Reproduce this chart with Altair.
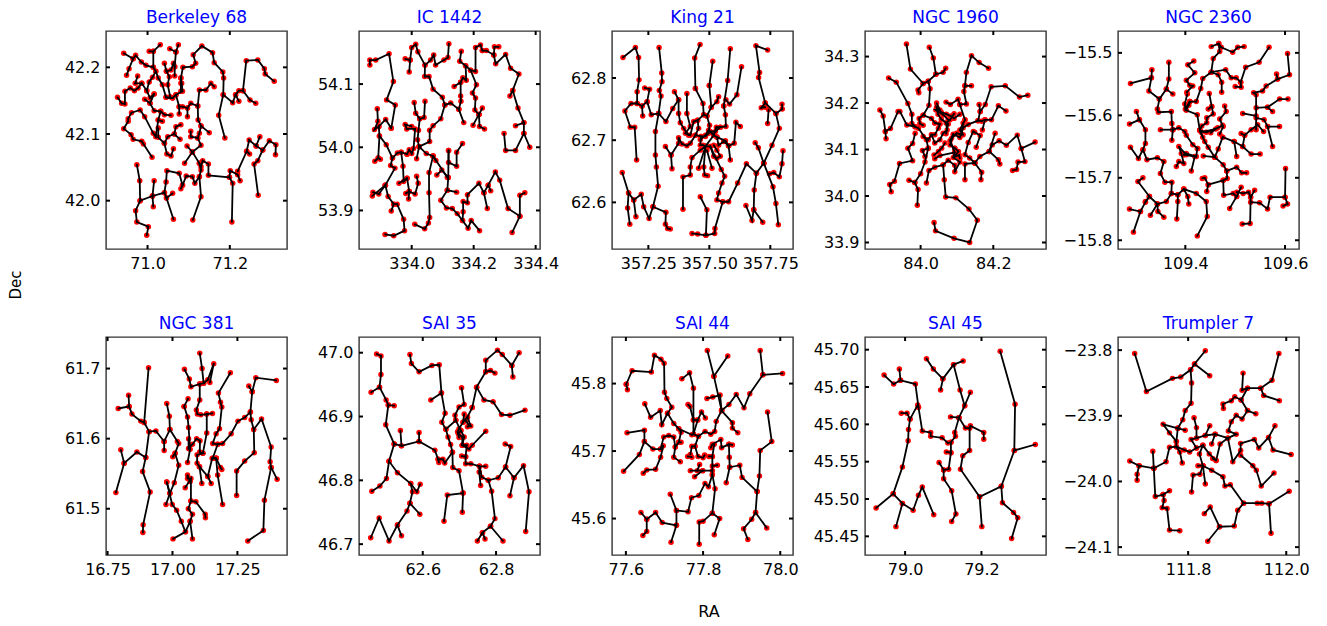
import altair as alt
import pandas as pd

BERKELEY_68 = [
 [(70.942,42.221),(70.965,42.213),(70.955,42.198),(70.949,42.188)],
 [(70.965,42.213),(70.971,42.218),(70.985,42.208),(70.996,42.203),(71.014,42.200),(71.020,42.194),(71.012,42.185),(71.004,42.178),(70.998,42.165),(70.986,42.176),(70.977,42.169),(70.968,42.165),(70.958,42.169),(70.945,42.164),(70.945,42.145),(70.937,42.146),(70.927,42.155)],
 [(70.986,42.176),(70.970,42.176),(70.976,42.187)],
 [(71.014,42.200),(71.014,42.224),(71.004,42.224)],
 [(71.014,42.224),(71.031,42.234)],
 [(71.020,42.194),(71.026,42.184),(71.036,42.174),(71.045,42.155),(71.061,42.154)],
 [(70.998,42.165),(71.006,42.154),(71.016,42.160)],
 [(70.993,42.152),(71.006,42.146),(71.016,42.160)],
 [(71.006,42.146),(71.016,42.135),(71.032,42.134),(71.041,42.129),(71.057,42.128)],
 [(71.032,42.134),(71.026,42.121),(71.020,42.096),(71.014,42.101),(70.993,42.126),(70.982,42.136),(70.961,42.132),(70.953,42.123),(70.953,42.119),(70.942,42.108),(70.960,42.099),(70.965,42.092),(70.986,42.089),(70.990,42.085),(71.011,42.065)],
 [(71.026,42.121),(71.036,42.119)],
 [(71.026,42.109),(71.026,42.095),(71.041,42.086),(71.047,42.070),(71.057,42.067),(71.063,42.078)],
 [(71.041,42.086),(71.049,42.096),(71.065,42.100),(71.079,42.092)],
 [(71.065,42.100),(71.069,42.111),(71.081,42.114)],
 [(71.045,42.155),(71.061,42.154),(71.069,42.159),(71.085,42.164),(71.083,42.176),(71.081,42.184),(71.086,42.200),(71.109,42.201),(71.117,42.206),(71.111,42.219),(71.132,42.232),(71.158,42.222),(71.162,42.207),(71.183,42.193),(71.185,42.184),(71.184,42.159),(71.173,42.128),(71.188,42.094)],
 [(71.069,42.159),(71.077,42.141),(71.077,42.130)],
 [(71.077,42.141),(71.085,42.141),(71.097,42.139),(71.105,42.146),(71.122,42.142),(71.126,42.166),(71.142,42.166),(71.154,42.176),(71.162,42.171)],
 [(71.097,42.139),(71.097,42.126)],
 [(71.122,42.142),(71.123,42.121),(71.130,42.112),(71.150,42.102)],
 [(71.130,42.112),(71.126,42.101),(71.122,42.094),(71.105,42.096),(71.105,42.104)],
 [(71.122,42.094),(71.130,42.083),(71.109,42.073),(71.096,42.082)],
 [(71.109,42.073),(71.090,42.056)],
 [(71.109,42.073),(71.126,42.056),(71.130,42.051),(71.134,42.060),(71.148,42.055),(71.148,42.038),(71.199,42.035),(71.207,42.026),(71.205,41.968)],
 [(71.199,42.035),(71.201,42.045),(71.219,42.039),(71.225,42.030)],
 [(71.219,42.044),(71.241,42.074),(71.247,42.091),(71.264,42.082),(71.273,42.096)],
 [(71.264,42.082),(71.280,42.076),(71.296,42.090),(71.312,42.084),(71.311,42.069)],
 [(71.280,42.076),(71.268,42.060),(71.259,42.055),(71.269,42.008)],
 [(71.241,42.074),(71.248,42.070)],
 [(71.126,42.056),(71.130,42.046),(71.126,42.036),(71.130,42.006),(71.110,41.971)],
 [(71.126,42.036),(71.115,42.026),(71.109,42.036),(71.094,42.037),(71.085,42.023),(71.081,42.018)],
 [(71.085,42.023),(71.077,42.041),(71.047,42.045),(71.045,42.028),(71.041,42.012),(71.012,42.007),(70.982,42.000),(70.981,42.030),(70.974,42.054)],
 [(71.012,42.007),(71.014,41.991)],
 [(71.012,42.007),(71.016,42.030)],
 [(71.041,42.012),(71.046,42.004),(71.063,41.972)],
 [(71.046,42.004),(71.061,42.011)],
 [(70.982,42.000),(70.971,41.985),(70.974,41.968),(71.002,41.961),(70.998,41.948)],
 [(71.184,42.159),(71.207,42.147),(71.214,42.159),(71.222,42.165),(71.232,42.165),(71.240,42.210),(71.268,42.211),(71.284,42.198),(71.286,42.190),(71.308,42.179)],
 [(71.232,42.165),(71.249,42.151),(71.263,42.146)],
 [(71.214,42.159),(71.222,42.149)],
 [(71.054,42.228),(71.069,42.223),(71.075,42.234)],
 [(71.069,42.223),(71.066,42.201),(71.066,42.187)],
 [(71.041,42.206),(71.046,42.194),(71.053,42.186),(71.049,42.174),(71.055,42.156)],
 [(71.046,42.194),(71.057,42.196),(71.063,42.206),(71.066,42.201)],
 [(71.081,42.184),(71.081,42.176),(71.081,42.164)],
]

IC_1442 = [
 [(333.865,54.130),(333.865,54.138),(333.884,54.138),(333.927,54.148),(333.941,54.104),(333.919,54.075),(333.947,54.067),(333.934,54.030)],
 [(333.889,54.061),(333.891,54.041),(333.880,54.028),(333.894,54.033),(333.916,54.044),(333.934,54.030)],
 [(333.894,54.033),(333.896,54.018),(333.918,54.004),(333.938,53.983),(333.932,53.971),(333.946,53.967),(333.915,53.940),(333.894,53.926),(333.875,53.929)],
 [(333.915,53.940),(333.873,53.923)],
 [(333.896,54.018),(333.892,53.983),(333.881,53.978)],
 [(333.892,53.983),(333.899,53.981)],
 [(333.938,53.983),(333.954,53.991),(333.966,53.992),(333.972,53.970),(333.974,53.946),(333.985,53.951),(333.959,53.943)],
 [(333.985,53.951),(333.992,53.930),(333.981,53.927)],
 [(333.992,53.930),(333.990,53.918)],
 [(333.992,53.930),(334.011,53.926),(334.021,53.943),(334.016,53.954)],
 [(333.966,53.992),(333.985,53.989)],
 [(333.915,53.940),(333.924,53.922),(333.942,53.910),(333.953,53.910),(333.974,53.886),(333.977,53.868),(333.942,53.860),(333.914,53.862)],
 [(333.942,53.910),(333.934,53.899)],
 [(333.985,53.989),(333.992,53.996),(334.000,53.990),(334.006,53.998),(334.011,54.029),(333.984,54.029),(333.979,54.036),(334.000,54.033)],
 [(334.008,54.071),(334.013,54.054),(334.026,54.045),(334.040,54.047),(334.043,54.073)],
 [(334.026,54.045),(334.022,54.027),(334.019,54.012),(334.024,54.001),(334.016,53.982)],
 [(334.024,54.001),(334.047,53.990),(334.069,53.986),(334.115,53.952)],
 [(334.069,53.986),(334.056,53.960),(334.056,53.928),(334.058,53.889),(334.054,53.880),(334.042,53.871),(334.010,53.878)],
 [(334.069,53.986),(334.078,53.979)],
 [(334.081,53.956),(334.097,53.964),(334.118,53.952),(334.119,53.995)],
 [(334.119,53.995),(334.119,53.976),(334.145,53.970),(334.145,53.992),(334.164,54.006)],
 [(334.118,53.952),(334.115,53.932),(334.145,53.929)],
 [(334.115,53.932),(334.094,53.916),(334.112,53.904),(334.131,53.903),(334.147,53.895),(334.164,53.884),(334.182,53.872),(334.192,53.884),(334.219,53.868)],
 [(334.164,53.884),(334.166,53.898),(334.166,53.914),(334.180,53.912),(334.180,53.925),(334.217,53.943),(334.233,53.928),(334.244,53.903)],
 [(334.233,53.928),(334.247,53.940),(334.270,53.961),(334.284,53.948),(334.311,53.903),(334.349,53.891),(334.349,53.924),(334.365,53.928)],
 [(334.349,53.891),(334.324,53.865)],
 [(334.247,53.940),(334.255,53.931)],
 [(334.024,54.001),(334.058,54.009),(334.058,54.027),(334.069,54.034),(334.094,54.045),(334.107,54.067),(334.099,54.079),(334.069,54.092),(334.056,54.112),(334.042,54.112),(334.043,54.130),(334.020,54.151),(334.013,54.163),(334.000,54.158),(333.995,54.138),(333.979,54.140)],
 [(333.995,54.138),(333.992,54.119)],
 [(334.043,54.130),(334.061,54.138),(334.071,54.146),(334.077,54.130),(334.104,54.138),(334.117,54.142),(334.120,54.164)],
 [(334.107,54.067),(334.126,54.070),(334.152,54.060),(334.168,54.039)],
 [(334.152,54.060),(334.159,54.073),(334.158,54.081),(334.158,54.103),(334.137,54.096)],
 [(334.158,54.103),(334.165,54.110),(334.176,54.106),(334.174,54.129),(334.155,54.136),(334.160,54.152)],
 [(334.174,54.129),(334.190,54.122),(334.206,54.120),(334.206,54.158),(334.222,54.162),(334.228,54.153)],
 [(334.190,54.122),(334.209,54.099),(334.196,54.086),(334.206,54.078),(334.204,54.059),(334.217,54.052),(334.228,54.062)],
 [(334.217,54.052),(334.198,54.035)],
 [(334.217,54.052),(334.219,54.033),(334.235,54.029)],
 [(334.228,54.153),(334.241,54.153),(334.265,54.146),(334.271,54.132),(334.303,54.147),(334.319,54.125),(334.346,54.116),(334.326,54.090),(334.317,54.081)],
 [(334.265,54.146),(334.267,54.159),(334.281,54.159)],
 [(334.326,54.090),(334.343,54.062),(334.362,54.039),(334.335,54.034)],
 [(334.362,54.039),(334.362,54.022),(334.381,54.000)],
 [(334.362,54.022),(334.335,53.995),(334.303,53.995),(334.298,54.022)],
]

KING_21 = [
 [(357.146,62.833),(357.197,62.849),(357.210,62.833),(357.212,62.797),(357.204,62.778),(357.204,62.759),(357.179,62.759),(357.154,62.747),(357.176,62.721),(357.194,62.721),(357.202,62.668)],
 [(357.204,62.759),(357.224,62.755),(357.227,62.739)],
 [(357.224,62.755),(357.245,62.762),(357.255,62.782),(357.235,62.784)],
 [(357.245,62.762),(357.262,62.741),(357.292,62.743),(357.322,62.730),(357.350,62.751),(357.374,62.765),(357.357,62.778)],
 [(357.374,62.765),(357.374,62.743),(357.381,62.728),(357.395,62.719),(357.415,62.708)],
 [(357.292,62.743),(357.302,62.771),(357.295,62.780),(357.306,62.794),(357.305,62.808),(357.294,62.849)],
 [(357.292,62.743),(357.279,62.714),(357.279,62.676),(357.283,62.657),(357.290,62.626),(357.269,62.593),(357.253,62.574),(357.231,62.593),(357.221,62.613),(357.190,62.604),(357.169,62.615),(357.143,62.648)],
 [(357.169,62.615),(357.165,62.591),(357.174,62.565)],
 [(357.190,62.604),(357.199,62.577)],
 [(357.269,62.593),(357.322,62.584),(357.320,62.565),(357.329,62.558),(357.340,62.557)],
 [(357.408,62.775),(357.408,62.743),(357.422,62.722),(357.402,62.711),(357.422,62.708),(357.436,62.730),(357.452,62.732),(357.456,62.719),(357.443,62.708),(357.466,62.706)],
 [(357.443,62.783),(357.440,62.832),(357.462,62.854)],
 [(357.443,62.783),(357.474,62.759),(357.477,62.741),(357.452,62.732)],
 [(357.477,62.741),(357.490,62.739),(357.501,62.724),(357.497,62.711),(357.484,62.706),(357.466,62.706),(357.463,62.692),(357.474,62.692),(357.484,62.690)],
 [(357.500,62.788),(357.514,62.827)],
 [(357.500,62.788),(357.508,62.753),(357.531,62.762),(357.538,62.770)],
 [(357.508,62.753),(357.490,62.739)],
 [(357.559,62.755),(357.575,62.796),(357.586,62.847)],
 [(357.559,62.755),(357.566,62.741),(357.568,62.722),(357.545,62.721),(357.529,62.721),(357.518,62.708),(357.531,62.705),(357.566,62.699),(357.579,62.691),(357.602,62.695),(357.609,62.729),(357.627,62.722)],
 [(357.579,62.691),(357.586,62.668)],
 [(357.568,62.765),(357.583,62.758),(357.613,62.773),(357.632,62.818)],
 [(357.392,62.589),(357.392,62.641),(357.422,62.644),(357.422,62.657),(357.429,62.672),(357.463,62.684),(357.484,62.690)],
 [(357.484,62.690),(357.456,62.655)],
 [(357.484,62.690),(357.477,62.657),(357.481,62.644),(357.493,62.643)],
 [(357.490,62.684),(357.511,62.655)],
 [(357.504,62.690),(357.518,62.674),(357.531,62.671),(357.545,62.674),(357.531,62.684),(357.518,62.692)],
 [(357.484,62.690),(357.504,62.690),(357.549,62.653),(357.563,62.642),(357.552,62.631),(357.538,62.615),(357.531,62.604),(357.555,62.601),(357.579,62.601),(357.616,62.631),(357.652,62.662),(357.693,62.647),(357.723,62.663),(357.757,62.692),(357.787,62.719),(357.773,62.743),(357.799,62.750),(357.798,62.758)],
 [(357.773,62.743),(357.729,62.760),(357.713,62.752),(357.729,62.753)],
 [(357.729,62.760),(357.702,62.801),(357.706,62.809),(357.691,62.852),(357.739,62.845)],
 [(357.739,62.727),(357.743,62.749)],
 [(357.555,62.601),(357.523,62.558),(357.522,62.550),(357.486,62.547),(357.452,62.549),(357.429,62.550)],
 [(357.486,62.547),(357.490,62.588),(357.463,62.609)],
 [(357.693,62.647),(357.684,62.620),(357.682,62.588),(357.675,62.571),(357.650,62.595)],
 [(357.682,62.588),(357.719,62.568)],
 [(357.723,62.663),(357.701,62.688),(357.688,62.696)],
 [(357.723,62.663),(357.761,62.625),(357.773,62.598),(357.783,62.564)],
 [(357.747,62.646),(357.764,62.648),(357.787,62.641),(357.798,62.662),(357.802,62.683)],
 [(357.320,62.690),(357.343,62.676),(357.347,62.654)],
 [(357.343,62.676),(357.374,62.695),(357.374,62.704),(357.388,62.694),(357.408,62.691),(357.422,62.695),(357.443,62.708)],
 [(357.463,62.701),(357.484,62.708),(357.497,62.716),(357.518,62.708)],
 [(357.484,62.690),(357.518,62.708)],
 [(357.504,62.714),(357.525,62.714),(357.545,62.721)],
 [(357.531,62.705),(357.538,62.692),(357.559,62.698),(357.579,62.691)],
]

NGC_1960 = [
 [(83.961,34.327),(83.972,34.273),(84.007,34.242),(84.021,34.247),(84.042,34.262),(84.062,34.266),(84.069,34.275)],
 [(84.042,34.262),(84.035,34.297),(84.024,34.320)],
 [(84.007,34.242),(83.993,34.228),(83.995,34.222)],
 [(84.021,34.247),(84.026,34.231),(84.023,34.195),(84.007,34.174),(83.996,34.167),(83.998,34.156),(84.007,34.152)],
 [(83.912,34.254),(83.933,34.245),(83.965,34.199),(83.976,34.176),(83.976,34.156),(83.985,34.149),(83.962,34.153),(83.943,34.182),(83.938,34.182),(83.917,34.145),(83.903,34.139),(83.897,34.172),(83.888,34.185)],
 [(83.903,34.139),(83.905,34.123)],
 [(83.985,34.149),(83.994,34.146),(84.016,34.121),(84.021,34.103),(84.005,34.098),(84.012,34.085)],
 [(83.985,34.135),(83.978,34.113),(83.965,34.103),(83.978,34.076),(83.942,34.070),(83.928,34.032),(83.915,34.025),(83.919,34.009)],
 [(84.021,34.103),(84.012,34.073),(84.000,34.048),(83.984,34.029),(83.968,34.034)],
 [(83.984,34.029),(83.993,34.014),(83.991,33.980)],
 [(84.007,34.174),(84.030,34.167),(84.039,34.157),(84.053,34.155)],
 [(84.039,34.157),(84.053,34.155),(84.049,34.146),(84.039,34.132),(84.030,34.132),(84.039,34.114),(84.053,34.121),(84.062,34.135),(84.073,34.142),(84.070,34.157),(84.081,34.164),(84.092,34.177)],
 [(84.016,34.028),(84.023,34.055),(84.039,34.062),(84.062,34.067),(84.065,34.035),(84.069,33.998),(84.097,33.996),(84.133,33.972),(84.156,33.948),(84.135,33.900),(84.092,33.909),(84.041,33.925),(84.037,33.943)],
 [(84.062,34.067),(84.076,34.077),(84.094,34.066),(84.094,34.052),(84.108,34.073),(84.090,34.083),(84.094,34.094),(84.081,34.119),(84.090,34.133),(84.108,34.126),(84.117,34.147),(84.131,34.154),(84.158,34.162),(84.164,34.182),(84.178,34.197),(84.194,34.235),(84.233,34.237),(84.272,34.213),(84.295,34.217)],
 [(84.164,34.182),(84.161,34.197)],
 [(84.158,34.162),(84.168,34.161),(84.177,34.164),(84.195,34.164),(84.214,34.194),(84.235,34.183)],
 [(84.177,34.164),(84.170,34.142)],
 [(84.122,34.164),(84.108,34.197),(84.126,34.198),(84.119,34.225),(84.122,34.237),(84.126,34.266),(84.140,34.302),(84.161,34.287),(84.187,34.275)],
 [(84.122,34.237),(84.140,34.237)],
 [(84.108,34.197),(84.103,34.208),(84.082,34.197),(84.070,34.202)],
 [(84.108,34.176),(84.092,34.167),(84.083,34.172),(84.071,34.176),(84.057,34.180),(84.044,34.191),(84.048,34.176),(84.057,34.165),(84.076,34.155),(84.070,34.134)],
 [(84.149,34.071),(84.122,34.069),(84.122,34.035)],
 [(84.149,34.071),(84.168,34.051),(84.166,34.035)],
 [(84.149,34.071),(84.163,34.085),(84.189,34.096),(84.214,34.078),(84.218,34.069)],
 [(84.189,34.096),(84.205,34.135)],
 [(84.189,34.096),(84.197,34.110),(84.216,34.119),(84.236,34.109),(84.266,34.131),(84.277,34.102),(84.315,34.116)],
 [(84.277,34.102),(84.287,34.074),(84.268,34.073),(84.264,34.057),(84.253,34.055)],
 [(84.149,34.071),(84.135,34.082),(84.122,34.089),(84.131,34.115),(84.145,34.139),(84.149,34.137),(84.164,34.130),(84.153,34.105)],
 [(84.094,34.094),(84.053,34.087),(84.039,34.080)],
 [(84.094,34.103),(84.081,34.110),(84.090,34.132),(84.085,34.124),(84.099,34.135),(84.113,34.132),(84.117,34.157)],
 [(84.094,34.103),(84.104,34.096),(84.094,34.085),(84.106,34.088),(84.108,34.081)],
 [(84.067,34.114),(84.058,34.103),(84.049,34.096),(84.037,34.088)],
 [(84.007,34.128),(84.021,34.121),(84.030,34.132)],
 [(84.044,34.200),(84.053,34.185),(84.042,34.185),(84.062,34.175),(84.076,34.164)],
 [(84.122,34.164),(84.108,34.142),(84.117,34.132)],
]

NGC_2360 = [
 [(109.452,-15.490),(109.467,-15.485),(109.472,-15.491),(109.495,-15.499),(109.505,-15.491),(109.518,-15.490)],
 [(109.467,-15.485),(109.469,-15.498),(109.456,-15.509),(109.452,-15.531),(109.435,-15.541),(109.431,-15.557),(109.422,-15.578),(109.409,-15.578),(109.400,-15.590),(109.399,-15.582),(109.404,-15.566)],
 [(109.409,-15.578),(109.407,-15.584)],
 [(109.452,-15.531),(109.466,-15.535),(109.473,-15.547),(109.473,-15.563)],
 [(109.452,-15.531),(109.481,-15.527),(109.492,-15.540),(109.502,-15.540),(109.511,-15.547),(109.512,-15.555),(109.500,-15.554)],
 [(109.511,-15.547),(109.521,-15.523),(109.548,-15.515),(109.568,-15.491)],
 [(109.409,-15.578),(109.402,-15.592),(109.424,-15.599),(109.429,-15.624),(109.435,-15.635)],
 [(109.417,-15.513),(109.405,-15.519),(109.419,-15.532),(109.402,-15.544),(109.409,-15.552),(109.415,-15.553),(109.403,-15.563)],
 [(109.367,-15.515),(109.367,-15.542),(109.362,-15.558),(109.348,-15.574),(109.327,-15.561),(109.332,-15.540),(109.290,-15.549)],
 [(109.332,-15.540),(109.333,-15.527)],
 [(109.362,-15.558),(109.375,-15.566)],
 [(109.348,-15.574),(109.344,-15.590),(109.346,-15.595),(109.372,-15.594),(109.373,-15.613),(109.375,-15.623),(109.373,-15.640)],
 [(109.375,-15.623),(109.350,-15.623)],
 [(109.375,-15.623),(109.387,-15.620),(109.399,-15.626),(109.402,-15.632),(109.415,-15.647),(109.425,-15.653)],
 [(109.302,-15.594),(109.308,-15.607),(109.288,-15.614)],
 [(109.308,-15.607),(109.320,-15.623),(109.320,-15.645),(109.315,-15.655),(109.306,-15.669),(109.290,-15.651)],
 [(109.315,-15.655),(109.323,-15.671),(109.344,-15.668),(109.357,-15.674),(109.350,-15.693),(109.359,-15.707),(109.373,-15.707),(109.372,-15.725),(109.362,-15.738),(109.344,-15.742),(109.330,-15.760)],
 [(109.344,-15.742),(109.345,-15.754),(109.357,-15.763)],
 [(109.344,-15.742),(109.328,-15.730),(109.320,-15.739),(109.310,-15.754),(109.288,-15.750)],
 [(109.310,-15.754),(109.296,-15.787)],
 [(109.328,-15.730),(109.320,-15.738)],
 [(109.328,-15.730),(109.305,-15.706),(109.315,-15.700)],
 [(109.372,-15.725),(109.385,-15.727),(109.397,-15.718),(109.422,-15.725),(109.442,-15.738),(109.444,-15.762),(109.424,-15.793)],
 [(109.385,-15.727),(109.385,-15.738),(109.383,-15.766)],
 [(109.397,-15.718),(109.405,-15.730),(109.407,-15.742)],
 [(109.402,-15.663),(109.387,-15.650),(109.392,-15.661),(109.397,-15.677),(109.387,-15.674),(109.382,-15.682)],
 [(109.397,-15.663),(109.419,-15.666),(109.412,-15.689)],
 [(109.397,-15.663),(109.402,-15.661),(109.422,-15.666),(109.424,-15.653)],
 [(109.429,-15.624),(109.442,-15.627),(109.465,-15.620),(109.475,-15.616)],
 [(109.429,-15.624),(109.439,-15.642),(109.446,-15.651),(109.459,-15.667),(109.436,-15.665)],
 [(109.459,-15.667),(109.466,-15.654),(109.475,-15.635)],
 [(109.459,-15.667),(109.476,-15.679),(109.483,-15.689),(109.503,-15.683),(109.513,-15.692),(109.523,-15.692)],
 [(109.483,-15.689),(109.484,-15.701),(109.476,-15.704),(109.446,-15.711),(109.439,-15.700),(109.434,-15.701)],
 [(109.446,-15.711),(109.443,-15.722)],
 [(109.476,-15.704),(109.477,-15.728),(109.496,-15.725),(109.503,-15.730),(109.489,-15.749)],
 [(109.503,-15.730),(109.512,-15.715)],
 [(109.503,-15.723),(109.516,-15.725),(109.527,-15.723),(109.531,-15.731),(109.539,-15.720)],
 [(109.531,-15.731),(109.530,-15.773),(109.514,-15.774)],
 [(109.531,-15.739),(109.549,-15.740),(109.565,-15.750),(109.570,-15.731),(109.600,-15.731),(109.605,-15.742),(109.596,-15.745)],
 [(109.600,-15.731),(109.601,-15.685)],
 [(109.475,-15.635),(109.498,-15.642),(109.515,-15.650),(109.532,-15.662),(109.550,-15.662)],
 [(109.498,-15.642),(109.503,-15.666)],
 [(109.515,-15.650),(109.519,-15.632),(109.532,-15.623),(109.545,-15.615),(109.557,-15.626)],
 [(109.519,-15.632),(109.512,-15.629)],
 [(109.542,-15.623),(109.542,-15.567),(109.537,-15.564),(109.555,-15.561),(109.562,-15.553),(109.585,-15.542),(109.583,-15.534)],
 [(109.585,-15.542),(109.609,-15.535),(109.605,-15.501)],
 [(109.542,-15.588),(109.565,-15.587),(109.575,-15.594)],
 [(109.565,-15.587),(109.589,-15.574),(109.606,-15.574)],
 [(109.542,-15.604),(109.558,-15.607),(109.565,-15.618),(109.589,-15.618)],
 [(109.565,-15.618),(109.575,-15.650)],
 [(109.542,-15.601),(109.515,-15.597)],
 [(109.448,-15.565),(109.453,-15.586),(109.456,-15.598),(109.443,-15.604),(109.443,-15.612),(109.433,-15.617),(109.429,-15.624)],
 [(109.453,-15.586),(109.446,-15.590)],
 [(109.479,-15.585),(109.482,-15.594),(109.469,-15.606),(109.476,-15.618),(109.469,-15.630)],
 [(109.451,-15.628),(109.461,-15.622),(109.432,-15.627)],
]

NGC_381 = [
 [(16.791,61.643),(16.833,61.646),(16.831,61.662)],
 [(16.833,61.646),(16.844,61.635),(16.878,61.625),(16.891,61.623),(16.908,61.701)],
 [(16.891,61.623),(16.910,61.610),(16.936,61.611),(16.968,61.596),(16.968,61.583)],
 [(16.910,61.610),(16.897,61.573),(16.885,61.553),(16.914,61.524),(16.887,61.477),(16.886,61.466)],
 [(16.897,61.573),(16.863,61.581),(16.814,61.565),(16.801,61.584)],
 [(16.814,61.565),(16.782,61.523)],
 [(16.968,61.596),(16.990,61.613),(16.988,61.632),(16.978,61.650)],
 [(16.990,61.613),(17.019,61.596),(17.024,61.593),(17.010,61.579),(17.001,61.574)],
 [(17.010,61.579),(17.024,61.562),(17.007,61.537),(16.990,61.522),(16.978,61.538)],
 [(16.990,61.522),(16.975,61.506)],
 [(16.978,61.538),(16.999,61.506),(17.016,61.498),(17.034,61.482),(17.050,61.467),(17.002,61.457)],
 [(17.050,61.467),(17.068,61.482),(17.077,61.457)],
 [(17.068,61.482),(17.077,61.492),(17.061,61.500),(17.071,61.511),(17.071,61.543),(17.049,61.530)],
 [(17.071,61.511),(17.090,61.510),(17.126,61.492),(17.127,61.487)],
 [(17.058,61.543),(17.058,61.548),(17.068,61.539)],
 [(17.045,61.646),(17.060,61.657)],
 [(17.045,61.646),(17.058,61.631),(17.062,61.616),(17.068,61.585),(17.058,61.566)],
 [(17.062,61.600),(17.062,61.586),(17.077,61.592),(17.093,61.600),(17.106,61.597),(17.105,61.581),(17.117,61.579),(17.095,61.577),(17.095,61.565),(17.104,61.560),(17.136,61.546),(17.149,61.536)],
 [(17.136,61.546),(17.153,61.572),(17.168,61.572)],
 [(17.104,61.560),(17.113,61.536)],
 [(17.117,61.579),(17.132,61.608),(17.132,61.635),(17.154,61.636)],
 [(17.132,61.635),(17.109,61.634),(17.096,61.635),(17.092,61.641),(17.105,61.655),(17.105,61.678),(17.071,61.674),(17.065,61.685),(17.046,61.699)],
 [(17.105,61.678),(17.120,61.679),(17.114,61.700),(17.105,61.722)],
 [(17.120,61.679),(17.136,61.684),(17.159,61.707),(17.144,61.680)],
 [(17.168,61.572),(17.155,61.572),(17.174,61.592),(17.155,61.593),(17.168,61.607),(17.181,61.614),(17.190,61.645),(17.185,61.652),(17.177,61.665),(17.223,61.694)],
 [(17.174,61.592),(17.193,61.593),(17.226,61.607),(17.252,61.625),(17.278,61.630),(17.300,61.638),(17.307,61.667),(17.294,61.675)],
 [(17.307,61.667),(17.321,61.687),(17.400,61.683)],
 [(17.300,61.638),(17.303,61.627),(17.313,61.613),(17.315,61.580),(17.278,61.568),(17.247,61.554),(17.247,61.519)],
 [(17.168,61.572),(17.185,61.559),(17.190,61.556)],
 [(17.168,61.572),(17.174,61.548),(17.193,61.506)],
 [(17.313,61.613),(17.343,61.628),(17.380,61.588),(17.376,61.567),(17.380,61.559),(17.403,61.542)],
 [(17.380,61.559),(17.354,61.512),(17.350,61.469),(17.290,61.454)],
]

SAI_35 = [
 [(62.474,46.998),(62.486,46.995),(62.486,46.966),(62.482,46.946),(62.459,46.938)],
 [(62.482,46.946),(62.500,46.926),(62.506,46.918),(62.522,46.917)],
 [(62.506,46.918),(62.499,46.887),(62.522,46.857),(62.542,46.854),(62.539,46.878)],
 [(62.542,46.854),(62.590,46.861),(62.590,46.875)],
 [(62.590,46.861),(62.633,46.847),(62.642,46.833),(62.644,46.828)],
 [(62.642,46.833),(62.655,46.833),(62.660,46.827),(62.681,46.844),(62.676,46.856),(62.669,46.868),(62.663,46.880),(62.652,46.891),(62.661,46.905),(62.651,46.937),(62.622,46.926)],
 [(62.651,46.937),(62.645,46.981),(62.625,46.980),(62.590,46.970),(62.569,46.983),(62.565,46.997)],
 [(62.522,46.857),(62.508,46.830),(62.531,46.812),(62.567,46.795),(62.584,46.782),(62.593,46.794)],
 [(62.567,46.795),(62.572,46.782),(62.565,46.764),(62.557,46.752),(62.531,46.730),(62.542,46.713)],
 [(62.565,46.764),(62.592,46.747)],
 [(62.531,46.730),(62.508,46.705),(62.481,46.741),(62.458,46.710)],
 [(62.508,46.830),(62.501,46.803),(62.483,46.791),(62.461,46.783)],
 [(62.681,46.844),(62.682,46.820),(62.699,46.815),(62.710,46.780),(62.667,46.777),(62.658,46.736)],
 [(62.710,46.780),(62.708,46.750)],
 [(62.663,46.880),(62.690,46.894),(62.688,46.902),(62.699,46.915),(62.713,46.919),(62.706,46.945)],
 [(62.690,46.894),(62.704,46.878),(62.697,46.873),(62.708,46.868),(62.708,46.855),(62.726,46.849),(62.735,46.855),(62.772,46.877)],
 [(62.708,46.855),(62.720,46.855),(62.717,46.837),(62.706,46.838)],
 [(62.717,46.837),(62.717,46.826),(62.731,46.826),(62.755,46.822),(62.772,46.822)],
 [(62.755,46.822),(62.754,46.813),(62.758,46.792)],
 [(62.755,46.822),(62.761,46.805),(62.779,46.800),(62.806,46.804),(62.826,46.821),(62.849,46.804),(62.875,46.823),(62.890,46.782),(62.881,46.720)],
 [(62.849,46.804),(62.838,46.776)],
 [(62.826,46.821),(62.840,46.853),(62.825,46.857)],
 [(62.779,46.800),(62.788,46.783),(62.797,46.740),(62.785,46.728),(62.763,46.718),(62.749,46.705)],
 [(62.763,46.718),(62.770,46.708)],
 [(62.785,46.728),(62.819,46.705)],
 [(62.735,46.914),(62.722,46.899),(62.731,46.885),(62.722,46.884)],
 [(62.735,46.914),(62.747,46.946),(62.772,46.970),(62.785,46.972),(62.797,46.968)],
 [(62.772,46.970),(62.772,46.988),(62.804,47.004),(62.817,46.997),(62.843,46.980),(62.863,47.0)],
 [(62.843,46.980),(62.846,46.962)],
 [(62.747,46.946),(62.767,46.926),(62.792,46.923),(62.815,46.903),(62.838,46.902),(62.879,46.910)],
 [(62.722,46.899),(62.710,46.891),(62.699,46.881),(62.695,46.876),(62.699,46.867)],
 [(62.704,46.878),(62.713,46.868),(62.708,46.855)],
 [(62.713,46.904),(62.710,46.891)],
 [(62.717,46.894),(62.726,46.886)],
]

SAI_44 = [
 [(77.601,45.799),(77.616,45.819),(77.666,45.817),(77.674,45.842),(77.691,45.836),(77.699,45.830),(77.700,45.787),(77.706,45.778),(77.719,45.765),(77.708,45.756),(77.724,45.741),(77.737,45.733),(77.771,45.724),(77.775,45.725),(77.775,45.793),(77.765,45.816),(77.745,45.807)],
 [(77.601,45.799),(77.604,45.791)],
 [(77.649,45.770),(77.664,45.750),(77.689,45.760),(77.693,45.739),(77.708,45.756)],
 [(77.737,45.733),(77.743,45.728),(77.737,45.713),(77.728,45.706),(77.724,45.691),(77.741,45.684)],
 [(77.737,45.713),(77.743,45.713)],
 [(77.603,45.727),(77.648,45.731),(77.648,45.714),(77.635,45.695),(77.594,45.670)],
 [(77.648,45.714),(77.670,45.703),(77.690,45.703),(77.698,45.721),(77.711,45.723),(77.724,45.721),(77.728,45.706)],
 [(77.690,45.703),(77.697,45.708),(77.690,45.691),(77.677,45.673),(77.654,45.672),(77.645,45.667)],
 [(77.771,45.691),(77.760,45.692)],
 [(77.775,45.725),(77.786,45.746),(77.796,45.758),(77.806,45.749)],
 [(77.775,45.746),(77.786,45.746)],
 [(77.761,45.769),(77.766,45.766),(77.775,45.746)],
 [(77.775,45.725),(77.788,45.722),(77.805,45.729),(77.820,45.725),(77.830,45.729),(77.834,45.744),(77.848,45.760),(77.844,45.783),(77.825,45.780),(77.810,45.778)],
 [(77.848,45.760),(77.828,45.811),(77.811,45.849)],
 [(77.828,45.811),(77.864,45.841)],
 [(77.848,45.760),(77.876,45.742),(77.876,45.734),(77.890,45.727)],
 [(77.848,45.760),(77.867,45.769),(77.886,45.784),(77.906,45.764),(77.921,45.785),(77.955,45.813),(78.006,45.815)],
 [(77.955,45.813),(77.948,45.849)],
 [(77.788,45.722),(77.779,45.707),(77.771,45.707),(77.767,45.695)],
 [(77.779,45.707),(77.787,45.692),(77.800,45.690),(77.804,45.694)],
 [(77.820,45.705),(77.824,45.710),(77.846,45.717),(77.848,45.705),(77.867,45.710),(77.876,45.709)],
 [(77.829,45.710),(77.824,45.692),(77.815,45.692)],
 [(77.867,45.710),(77.868,45.691),(77.869,45.676),(77.895,45.679),(77.901,45.661),(77.940,45.640),(77.936,45.609),(77.926,45.599),(77.905,45.585),(77.916,45.569)],
 [(77.936,45.609),(77.965,45.586)],
 [(77.940,45.640),(77.946,45.663),(77.948,45.701),(77.978,45.714),(77.967,45.758)],
 [(77.869,45.676),(77.860,45.653)],
 [(77.824,45.692),(77.824,45.665),(77.831,45.644),(77.824,45.608),(77.800,45.596),(77.790,45.595),(77.790,45.562)],
 [(77.824,45.608),(77.843,45.600),(77.829,45.576)],
 [(77.824,45.665),(77.814,45.647),(77.805,45.652),(77.789,45.634),(77.770,45.631),(77.761,45.610),(77.731,45.612),(77.715,45.636)],
 [(77.731,45.612),(77.731,45.590),(77.694,45.594),(77.677,45.609),(77.654,45.599),(77.639,45.609)],
 [(77.654,45.599),(77.654,45.581),(77.644,45.575)],
 [(77.731,45.590),(77.717,45.565)],
 [(77.824,45.678),(77.837,45.679)],
 [(77.824,45.671),(77.799,45.671),(77.778,45.662)],
 [(77.799,45.671),(77.767,45.671)],
 [(77.785,45.671),(77.791,45.680)],
]

SAI_45 = [
 [(79.249,45.698),(79.288,45.627),(79.286,45.565),(79.341,45.573)],
 [(79.286,45.565),(79.252,45.517),(79.195,45.503),(79.145,45.540),(79.151,45.558),(79.169,45.565),(79.169,45.595),(79.158,45.595),(79.141,45.609),(79.119,45.610)],
 [(79.169,45.595),(79.171,45.598),(79.206,45.589),(79.206,45.580)],
 [(79.252,45.517),(79.255,45.495),(79.284,45.482),(79.295,45.475),(79.279,45.447)],
 [(79.195,45.503),(79.201,45.463)],
 [(79.141,45.609),(79.156,45.625),(79.171,45.643)],
 [(79.156,45.625),(79.144,45.646),(79.127,45.680),(79.152,45.685)],
 [(79.127,45.680),(79.099,45.661),(79.074,45.674),(79.056,45.688)],
 [(79.099,45.661),(79.093,45.646)],
 [(79.141,45.609),(79.130,45.589),(79.132,45.584),(79.120,45.576),(79.112,45.575),(79.097,45.582),(79.067,45.584),(79.067,45.589),(79.045,45.591),(79.035,45.623),(79.027,45.654),(78.988,45.659),(78.985,45.674)],
 [(78.988,45.659),(78.970,45.654),(78.945,45.666)],
 [(79.035,45.623),(79.033,45.626),(79.013,45.607),(79.005,45.615),(78.990,45.615)],
 [(79.013,45.607),(79.009,45.593),(79.008,45.578),(78.993,45.543),(78.969,45.507),(78.924,45.488)],
 [(78.969,45.507),(78.993,45.494),(78.976,45.463)],
 [(78.993,45.494),(79.021,45.485),(79.035,45.505),(79.045,45.516),(79.075,45.479)],
 [(79.120,45.576),(79.120,45.562),(79.108,45.563)],
 [(79.120,45.562),(79.114,45.540),(79.101,45.539),(79.089,45.549)],
 [(79.101,45.539),(79.101,45.527),(79.122,45.511),(79.133,45.480),(79.122,45.470)],
]

TRUMPLER_7 = [
 [(111.691,-23.805),(111.715,-23.863),(111.768,-23.843),(111.785,-23.841),(111.805,-23.830),(111.813,-23.821),(111.835,-23.801)],
 [(111.813,-23.821),(111.844,-23.839)],
 [(111.805,-23.830),(111.807,-23.850),(111.806,-23.881),(111.794,-23.892),(111.789,-23.906),(111.779,-23.919),(111.776,-23.939),(111.776,-23.947),(111.762,-23.948),(111.755,-23.970),(111.730,-23.980),(111.700,-23.976),(111.681,-23.969)],
 [(111.700,-23.976),(111.696,-23.989),(111.696,-23.998)],
 [(111.730,-23.980),(111.728,-23.954)],
 [(111.730,-23.980),(111.733,-24.023),(111.749,-24.020),(111.762,-24.014)],
 [(111.749,-24.020),(111.751,-24.029),(111.747,-24.040),(111.757,-24.041),(111.762,-24.074),(111.783,-24.075)],
 [(111.779,-23.919),(111.749,-23.913),(111.762,-23.926),(111.776,-23.939)],
 [(111.779,-23.919),(111.794,-23.922)],
 [(111.776,-23.947),(111.783,-23.955),(111.788,-23.972)],
 [(111.776,-23.947),(111.792,-23.952),(111.803,-23.955),(111.817,-23.949),(111.830,-23.945),(111.823,-23.958),(111.830,-23.976),(111.820,-23.976)],
 [(111.830,-23.945),(111.843,-23.958),(111.857,-23.968),(111.850,-23.965)],
 [(111.830,-23.976),(111.835,-24.004)],
 [(111.830,-23.976),(111.824,-23.989),(111.810,-23.990),(111.807,-24.016)],
 [(111.830,-23.976),(111.848,-23.983),(111.871,-23.993),(111.875,-24.007),(111.886,-24.005),(111.913,-24.033),(111.901,-24.044),(111.894,-24.068),(111.864,-24.069),(111.845,-24.039),(111.833,-24.049)],
 [(111.864,-24.069),(111.840,-24.091)],
 [(111.913,-24.033),(111.941,-24.033),(111.950,-24.033),(111.965,-24.034),(112.006,-24.015)],
 [(111.965,-24.034),(111.969,-24.079)],
 [(111.857,-23.968),(111.865,-23.943),(111.881,-23.934),(111.898,-23.928),(111.882,-23.923),(111.888,-23.909),(111.898,-23.899),(111.910,-23.905),(111.921,-23.892),(111.938,-23.897)],
 [(111.921,-23.892),(111.908,-23.876),(111.895,-23.871),(111.888,-23.877),(111.871,-23.882),(111.872,-23.889)],
 [(111.908,-23.876),(111.921,-23.858),(111.948,-23.858),(111.971,-23.846),(111.985,-23.805)],
 [(111.948,-23.858),(111.954,-23.869),(111.986,-23.877)],
 [(111.921,-23.858),(111.910,-23.861),(111.912,-23.835)],
 [(111.817,-23.949),(111.806,-23.936),(111.817,-23.934),(111.835,-23.930),(111.855,-23.928),(111.881,-23.934)],
 [(111.817,-23.934),(111.817,-23.918),(111.812,-23.903)],
 [(111.835,-23.930),(111.844,-23.915)],
 [(111.855,-23.928),(111.848,-23.943)],
 [(111.881,-23.934),(111.891,-23.970),(111.907,-23.953),(111.907,-23.942),(111.935,-23.936),(111.944,-23.949),(111.964,-23.933),(111.977,-23.915)],
 [(111.964,-23.933),(111.973,-23.952),(112.010,-23.959)],
 [(111.907,-23.960),(111.932,-23.976),(111.939,-23.983),(111.949,-24.007),(111.975,-23.987)],
]

TITLES = ["Berkeley 68","IC 1442","King 21","NGC 1960","NGC 2360","NGC 381","SAI 35","SAI 44","SAI 45","Trumpler 7"]
TREES = [BERKELEY_68,IC_1442,KING_21,NGC_1960,NGC_2360,NGC_381,SAI_35,SAI_44,SAI_45,TRUMPLER_7]
RA_DOMAINS = [[70.899,71.339],[333.830,334.414],[357.101,357.843],[83.847,84.345],[109.265,109.628],
              [16.744,17.441],[62.426,62.920],[77.564,78.033],[78.895,79.369],[111.657,112.026]]
DEC_DOMAINS = [[41.9275,42.2545],[53.839,54.184],[62.525,62.8756],[33.886,34.355],[-15.814,-15.465],
               [61.434,61.745],[46.683,47.0246],[45.546,45.869],[45.425,45.717],[-24.112,-23.78]]
RA_TICKS = [[71.0,71.2],[334.0,334.2,334.4],[357.25,357.5,357.75],[84.0,84.2],[109.4,109.6],
            [16.75,17.0,17.25],[62.6,62.8],[77.6,77.8,78.0],[79.0,79.2],[111.8,112.0]]
DEC_TICKS = [[42.0,42.1,42.2],[53.9,54.0,54.1],[62.6,62.7,62.8],[33.9,34.0,34.1,34.2,34.3],[-15.8,-15.7,-15.6,-15.5],
             [61.5,61.6,61.7],[46.7,46.8,46.9,47.0],[45.6,45.7,45.8],[45.45,45.5,45.55,45.6,45.65,45.7],[-24.1,-24.0,-23.9,-23.8]]
RA_FMT = [".1f",".1f",".2f",".1f",".1f",".2f",".1f",".1f",".1f",".1f"]
DEC_FMT = [".1f",".1f",".1f",".1f",".1f",".1f",".1f",".1f",".2f",".1f"]

W, H = 181, 218
TICK = 4
FONT = "DejaVu Sans"


def panel(i):
    rows = []
    for b, branch in enumerate(TREES[i]):
        for o, (ra, dec) in enumerate(branch):
            rows.append({"ra": ra, "dec": dec, "branch": b, "order": o})
    df = pd.DataFrame(rows)
    x = alt.X("ra:Q", scale=alt.Scale(domain=RA_DOMAINS[i], nice=False, zero=False),
              axis=alt.Axis(values=RA_TICKS[i], format=RA_FMT[i], title=None, grid=False, domain=False,
                            tickSize=0, labelFontSize=16, labelFont=FONT, labelColor="black", labelPadding=6,
                            labelOverlap=False, labelFlush=False))
    y = alt.Y("dec:Q", scale=alt.Scale(domain=DEC_DOMAINS[i], nice=False, zero=False),
              axis=alt.Axis(values=DEC_TICKS[i], format=DEC_FMT[i], title=None, grid=False, domain=False,
                            tickSize=0, labelFontSize=16, labelFont=FONT, labelColor="black", labelPadding=6,
                            labelOverlap=False))
    red = alt.Chart(df).mark_circle(color="#ff0000", size=30, opacity=1).encode(x=x, y=y)
    lines = alt.Chart(df).mark_line(color="black", strokeWidth=1.8, clip=True).encode(
        x=x, y=y, detail="branch:N", order="order:Q")
    core = alt.Chart(df).mark_circle(color="black", size=3, opacity=1).encode(x=x, y=y)

    xt = pd.DataFrame({"ra": RA_TICKS[i]})
    yt = pd.DataFrame({"dec": DEC_TICKS[i]})
    tick_x = alt.X("ra:Q", scale=alt.Scale(domain=RA_DOMAINS[i], nice=False, zero=False))
    tick_y = alt.Y("dec:Q", scale=alt.Scale(domain=DEC_DOMAINS[i], nice=False, zero=False))
    ticks = [
        alt.Chart(xt).mark_rule(color="black", strokeWidth=2).encode(x=tick_x, y=alt.value(0), y2=alt.value(TICK)),
        alt.Chart(xt).mark_rule(color="black", strokeWidth=2).encode(x=tick_x, y=alt.value(H - TICK), y2=alt.value(H)),
        alt.Chart(yt).mark_rule(color="black", strokeWidth=2).encode(y=tick_y, x=alt.value(0), x2=alt.value(TICK)),
        alt.Chart(yt).mark_rule(color="black", strokeWidth=2).encode(y=tick_y, x=alt.value(W - TICK), x2=alt.value(W)),
    ]
    layers = [red, lines, core] + ticks
    if i == 0:
        layers.append(alt.Chart(pd.DataFrame({"t": ["Dec"]})).mark_text(
            angle=270, fontSize=15, font=FONT, color="black").encode(
            text="t:N", x=alt.value(-90), y=alt.value(254)))
    if i == 7:
        layers.append(alt.Chart(pd.DataFrame({"t": ["RA"]})).mark_text(
            fontSize=16, font=FONT, color="black").encode(
            text="t:N", x=alt.value(97), y=alt.value(275)))
    return alt.layer(*layers).properties(
        width=W, height=H,
        title=alt.TitleParams(TITLES[i], color="#0000ff", fontSize=17, font=FONT, fontWeight="normal", offset=3),
    )


chart = alt.concat(*[panel(i) for i in range(10)], columns=5, spacing={"row": 88, "column": 72}, bounds="flush"
                   ).properties(padding={"left": 0, "top": 0, "right": 0, "bottom": 0}
                   ).configure_view(stroke="#333333", strokeWidth=1.4)

chart.save("out.html", embed_options={"renderer": "svg", "actions": False})
